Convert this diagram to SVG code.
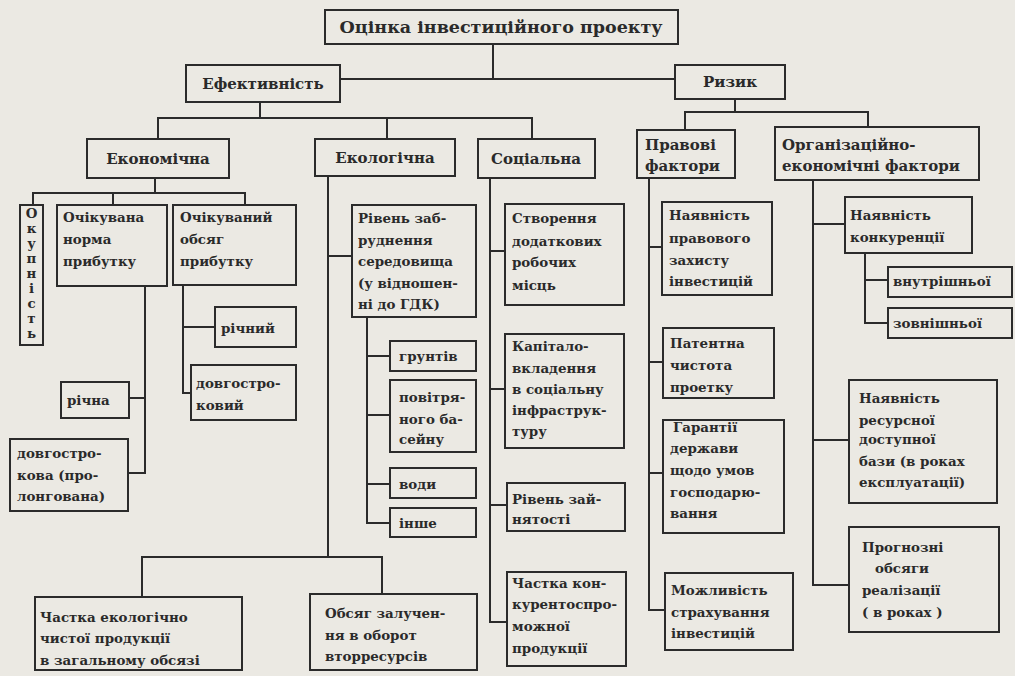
<svg xmlns="http://www.w3.org/2000/svg" width="1015" height="676" viewBox="0 0 1015 676">
<style>
.bg{fill:#ebe9e3}
rect.n{fill:none;stroke:#2b2b2b;stroke-width:2}
.c path{fill:none;stroke:#2b2b2b;stroke-width:2}
text{font-family:"DejaVu Serif","Liberation Serif",serif;font-weight:bold;fill:#2a2a2a;font-size:13.4px}
.h{font-size:15px}
.t{font-size:17.5px}
.m{text-anchor:middle}
</style>
<rect class="bg" x="0" y="0" width="1015" height="676"/>
<g class="c" id="connectors">
<path d="M493,44V79M340,79H675"/>
<path d="M260,102V118M158,139V118H532V139M387,118V139"/>
<path d="M735,99V112M685,130V112H868V127"/>
<path d="M155,178V193M33,205V193H245V205M113,193V205"/>
<path d="M145,286V473H128M129,398H145"/>
<path d="M183,285V393H191M183,327H215"/>
<path d="M328,176V557M328,256H352M142,597V557H382V594"/>
<path d="M367,317V523H390M367,356H390M367,415H390M367,484H390"/>
<path d="M490,178V622H507M490,251H505M490,389H505M490,505H507"/>
<path d="M649,178V610H665M649,247H662M649,362H663M649,473H663"/>
<path d="M813,180V585H849M813,224H845M813,440H849"/>
<path d="M865,253V323H888M865,280H888"/>
</g>
<g id="root"><rect class="n" x="325" y="10" width="353" height="34"/><text class="t m" x="501" y="33">Оцінка інвестиційного проекту</text></g>
<g id="efekt"><rect class="n" x="186" y="65" width="154" height="37"/><text class="h m" x="263" y="89">Ефективність</text></g>
<g id="ryzyk"><rect class="n" x="675" y="65" width="110" height="34"/><text class="h m" x="730" y="87">Ризик</text></g>
<g id="ekonom"><rect class="n" x="87" y="139" width="142" height="39"/><text class="h m" x="158" y="164">Економічна</text></g>
<g id="ekolog"><rect class="n" x="315" y="139" width="140" height="37"/><text class="h m" x="385" y="163">Екологічна</text></g>
<g id="social"><rect class="n" x="478" y="139" width="117" height="39"/><text class="h m" x="536" y="164">Соціальна</text></g>
<g id="pravovi"><rect class="n" x="637" y="130" width="98" height="48"/><text class="h" x="645" y="150">Правові</text><text class="h" x="645" y="171">фактори</text></g>
<g id="org"><rect class="n" x="775" y="127" width="204" height="53"/><text class="h" x="782" y="150">Організаційно-</text><text class="h" x="782" y="171">економічні фактори</text></g>
<g id="okupnist"><rect class="n" x="20" y="205" width="23" height="140"/>
<text class="m" x="31.5" y="218">О</text><text class="m" x="31.5" y="233">к</text><text class="m" x="31.5" y="248">у</text><text class="m" x="31.5" y="263">п</text><text class="m" x="31.5" y="278">н</text><text class="m" x="31.5" y="293">і</text><text class="m" x="31.5" y="308">с</text><text class="m" x="31.5" y="323">т</text><text class="m" x="31.5" y="338">ь</text></g>
<g id="norma"><rect class="n" x="57" y="205" width="110" height="81"/><text x="63" y="222">Очікувана</text><text x="63" y="244">норма</text><text x="63" y="266">прибутку</text></g>
<g id="obsyag"><rect class="n" x="173" y="205" width="123" height="80"/><text x="180" y="222">Очікуваний</text><text x="180" y="244">обсяг</text><text x="180" y="266">прибутку</text></g>
<g id="richna"><rect class="n" x="61" y="382" width="68" height="36"/><text x="67" y="405">річна</text></g>
<g id="dovgova"><rect class="n" x="10" y="439" width="118" height="72"/><text x="17" y="458">довгостро-</text><text x="17" y="480">кова (про-</text><text x="17" y="501">лонгована)</text></g>
<g id="richnyi"><rect class="n" x="215" y="307" width="81" height="40"/><text x="221" y="333">річний</text></g>
<g id="dovgovyi"><rect class="n" x="191" y="365" width="105" height="55"/><text x="196" y="388">довгостро-</text><text x="196" y="410">ковий</text></g>
<g id="riven"><rect class="n" x="352" y="205" width="124" height="112"/><text x="358" y="223">Рівень заб-</text><text x="358" y="245">руднення</text><text x="358" y="266">середовища</text><text x="358" y="288">(у відношен-</text><text x="358" y="309">ні до ГДК)</text></g>
<g id="grunt"><rect class="n" x="390" y="341" width="86" height="30"/><text x="399" y="361">грунтів</text></g>
<g id="povitr"><rect class="n" x="390" y="380" width="86" height="72"/><text x="399" y="402">повітря-</text><text x="399" y="424">ного ба-</text><text x="399" y="444">сейну</text></g>
<g id="vody"><rect class="n" x="390" y="468" width="86" height="30"/><text x="399" y="489">води</text></g>
<g id="inshe"><rect class="n" x="390" y="508" width="86" height="29"/><text x="399" y="528">інше</text></g>
<g id="stvor"><rect class="n" x="505" y="204" width="119" height="101"/><text x="512" y="223">Створення</text><text x="512" y="246">додаткових</text><text x="512" y="267">робочих</text><text x="512" y="290">місць</text></g>
<g id="kapital"><rect class="n" x="505" y="334" width="119" height="114"/><text x="512" y="351">Капітало-</text><text x="512" y="373">вкладення</text><text x="512" y="394">в соціальну</text><text x="512" y="415">інфраструк-</text><text x="512" y="436">туру</text></g>
<g id="zainyat"><rect class="n" x="507" y="483" width="118" height="48"/><text x="512" y="504">Рівень зай-</text><text x="512" y="524">нятості</text></g>
<g id="konkurent"><rect class="n" x="507" y="572" width="119" height="94"/><text x="512" y="588">Частка кон-</text><text x="512" y="609">курентоспро-</text><text x="512" y="631">можної</text><text x="512" y="653">продукції</text></g>
<g id="ekochysta"><rect class="n" x="35" y="597" width="207" height="73"/><text x="40" y="622">Частка екологічно</text><text x="40" y="643">чистої продукції</text><text x="40" y="665">в загальному обсязі</text></g>
<g id="vtorres"><rect class="n" x="310" y="594" width="167" height="76"/><text x="325" y="618">Обсяг залучен-</text><text x="325" y="640">ня в оборот</text><text x="325" y="661">вторресурсів</text></g>
<g id="zahyst"><rect class="n" x="662" y="202" width="110" height="93"/><text x="669" y="220">Наявність</text><text x="669" y="243">правового</text><text x="669" y="265">захисту</text><text x="669" y="286">інвестицій</text></g>
<g id="patent"><rect class="n" x="663" y="328" width="111" height="70"/><text x="670" y="348">Патентна</text><text x="670" y="370">чистота</text><text x="670" y="392">проетку</text></g>
<g id="garant"><rect class="n" x="663" y="420" width="121" height="113"/><text x="673" y="432">Гарантії</text><text x="670" y="453">держави</text><text x="670" y="475">щодо умов</text><text x="670" y="497">господарю-</text><text x="670" y="518">вання</text></g>
<g id="strakh"><rect class="n" x="665" y="573" width="128" height="77"/><text x="671" y="595">Можливість</text><text x="671" y="617">страхування</text><text x="671" y="638">інвестицій</text></g>
<g id="konkur"><rect class="n" x="845" y="197" width="127" height="56"/><text x="850" y="220">Наявність</text><text x="850" y="242">конкуренції</text></g>
<g id="vnutr"><rect class="n" x="888" y="267" width="124" height="30"/><text x="893" y="286">внутрішньої</text></g>
<g id="zovn"><rect class="n" x="888" y="308" width="124" height="30"/><text x="893" y="328">зовнішньої</text></g>
<g id="resurs"><rect class="n" x="849" y="380" width="148" height="123"/><text x="859" y="403">Наявність</text><text x="859" y="425">ресурсної</text><text x="859" y="444">доступної</text><text x="859" y="466">бази (в роках</text><text x="859" y="487">експлуатації)</text></g>
<g id="prognoz"><rect class="n" x="849" y="527" width="150" height="105"/><text x="862" y="552">Прогнозні</text><text x="875" y="573">обсяги</text><text x="862" y="595">реалізації</text><text x="862" y="617">( в роках )</text></g>
</svg>
